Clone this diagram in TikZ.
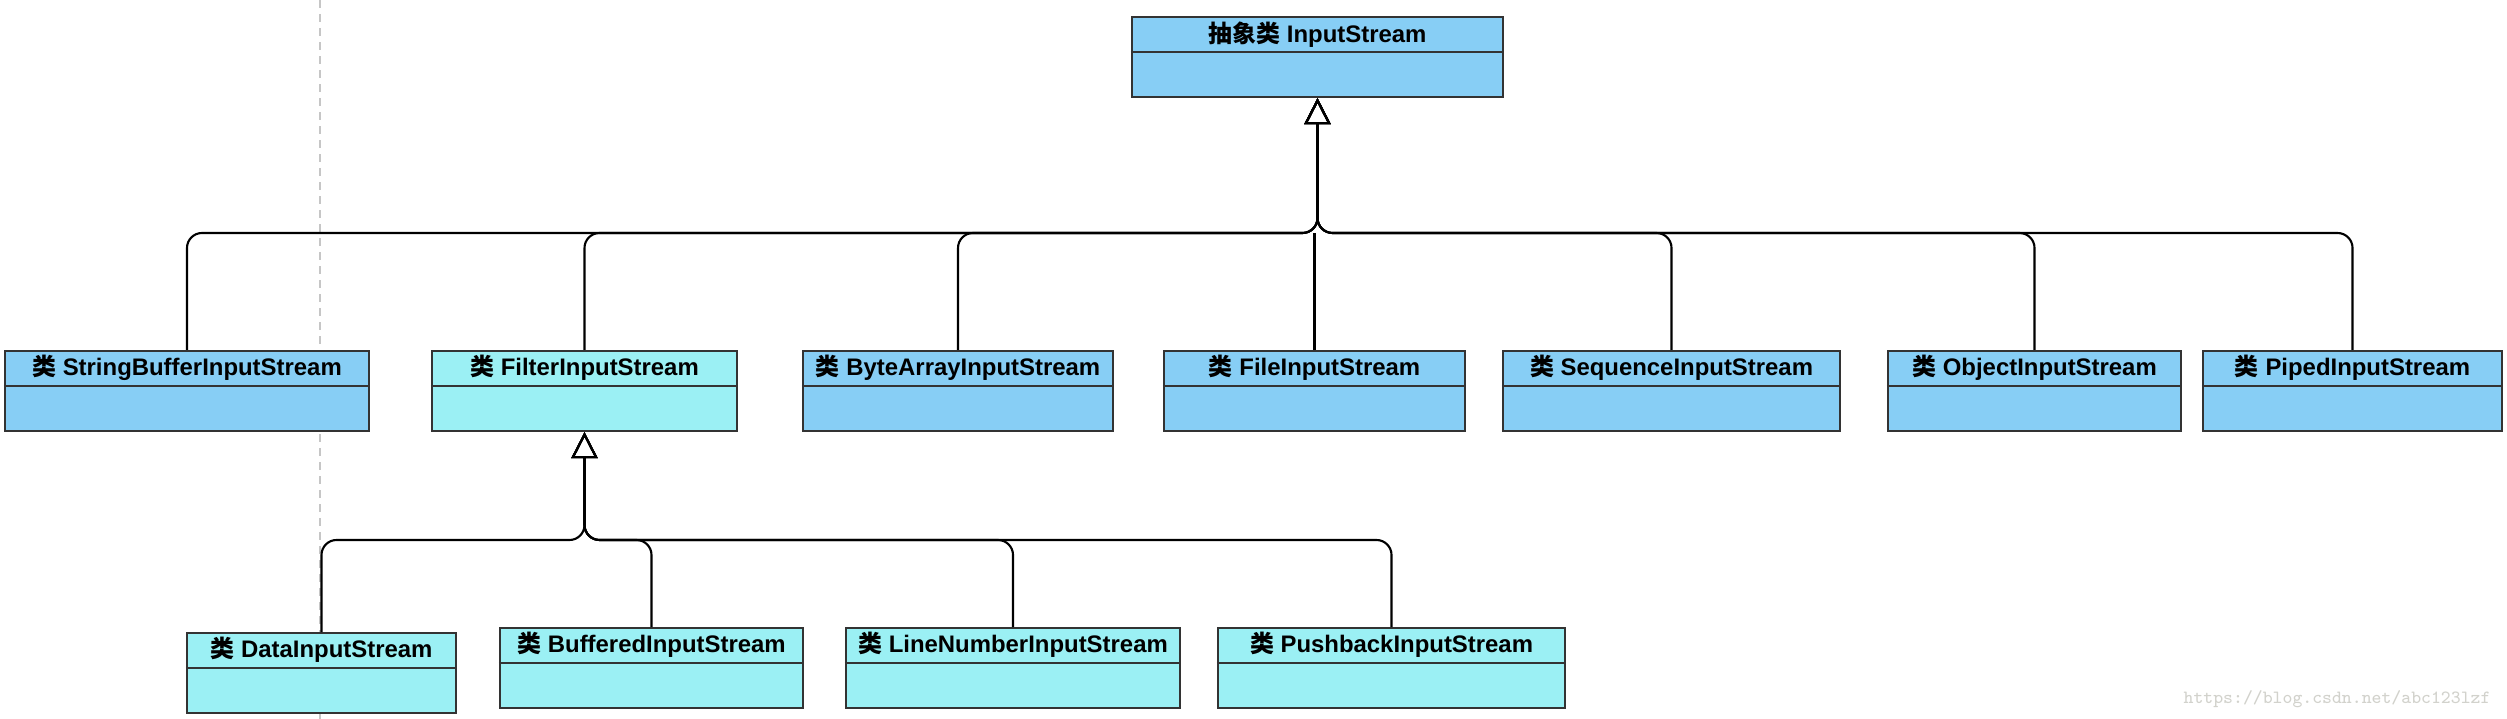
\documentclass[tikz,border=0pt]{standalone}
\usepackage{fontspec}
\setmainfont{Liberation Sans}
\newfontfamily\cjk{Noto Sans CJK SC}
\usetikzlibrary{positioning, arrows.meta}

\definecolor{skyfill}{HTML}{87CEF5}
\definecolor{aquafill}{HTML}{9BF0F4}
\definecolor{boxline}{HTML}{333333}
\definecolor{markgray}{HTML}{D2D2CC}

\newcommand{\lei}[1]{{\cjk 类} #1}

\tikzset{
  classbox/.style={draw=boxline, line width=0.6pt, rectangle, anchor=north, minimum height=0.8cm, inner sep=0pt},
  classname/.style={font=\fontsize{6.8}{8}\selectfont\bfseries, minimum height=0.35cm, inner sep=0pt},
  inherit/.style={draw=black, line width=0.6pt, rounded corners=0.15cm, -{Triangle[open, length=0.26cm, width=0.26cm]}},
}

\begin{document}
\begin{tikzpicture}[x=0.01cm, y=-0.01cm]
    \useasboundingbox[fill=white] (0,0) rectangle (2507,719);
    % page edge
    \coordinate (pagetop) at (320,0);
    \coordinate (pagebot) at (320,719);
    \draw[gray!45, line width=0.4pt, dash pattern=on 0.08cm off 0.06cm] (pagetop) -- (pagebot);

    \foreach \n/\x/\y/\w/\col/\txt in {
        is/1317.5/16/371/skyfill/{{\cjk 抽象类} InputStream},
        sbis/187/350/364/skyfill/{\lei{StringBufferInputStream}},
        fis/584.5/350/305/aquafill/{\lei{FilterInputStream}},
        bais/958/350/310/skyfill/{\lei{ByteArrayInputStream}},
        fileis/1314.5/350/301/skyfill/{\lei{FileInputStream}},
        seqis/1671.5/350/337/skyfill/{\lei{SequenceInputStream}},
        objis/2034.5/350/293/skyfill/{\lei{ObjectInputStream}},
        pipis/2352.5/350/299/skyfill/{\lei{PipedInputStream}},
        dis/321.5/632/269/aquafill/{\lei{DataInputStream}},
        bufis/651.5/627/303/aquafill/{\lei{BufferedInputStream}},
        lnis/1013/627/334/aquafill/{\lei{LineNumberInputStream}},
        pbis/1391.5/627/347/aquafill/{\lei{PushbackInputStream}}} {
        \node[classbox, fill=\col, minimum width={\w*0.01cm}] (\n) at (\x,\y) {};
        \node[classname, below=0pt of \n.north] (\n-t) {\txt};
        \draw[boxline, line width=0.6pt] (\n.west |- \n-t.south) -- (\n.east |- \n-t.south);
    }

    % InputStream subclasses
    \coordinate (topbus) at (1317.5,233);
    \foreach \c in {sbis, fis, bais, seqis, objis, pipis}
        \draw[inherit] (\c.north) |- (topbus) -- (is.south);
    \draw[inherit, -] (fileis.north) -- (fileis.north |- topbus);

    % FilterInputStream subclasses
    \coordinate (subbus) at (584.5,540);
    \foreach \c in {dis, bufis, lnis, pbis}
        \draw[inherit] (\c.north) |- (subbus) -- (fis.south);

    \node[markgray, font=\fontsize{5.3}{6}\selectfont\ttfamily] (mark) at (2337,699) {https://blog.csdn.net/abc123lzf};
\end{tikzpicture}
\end{document}
